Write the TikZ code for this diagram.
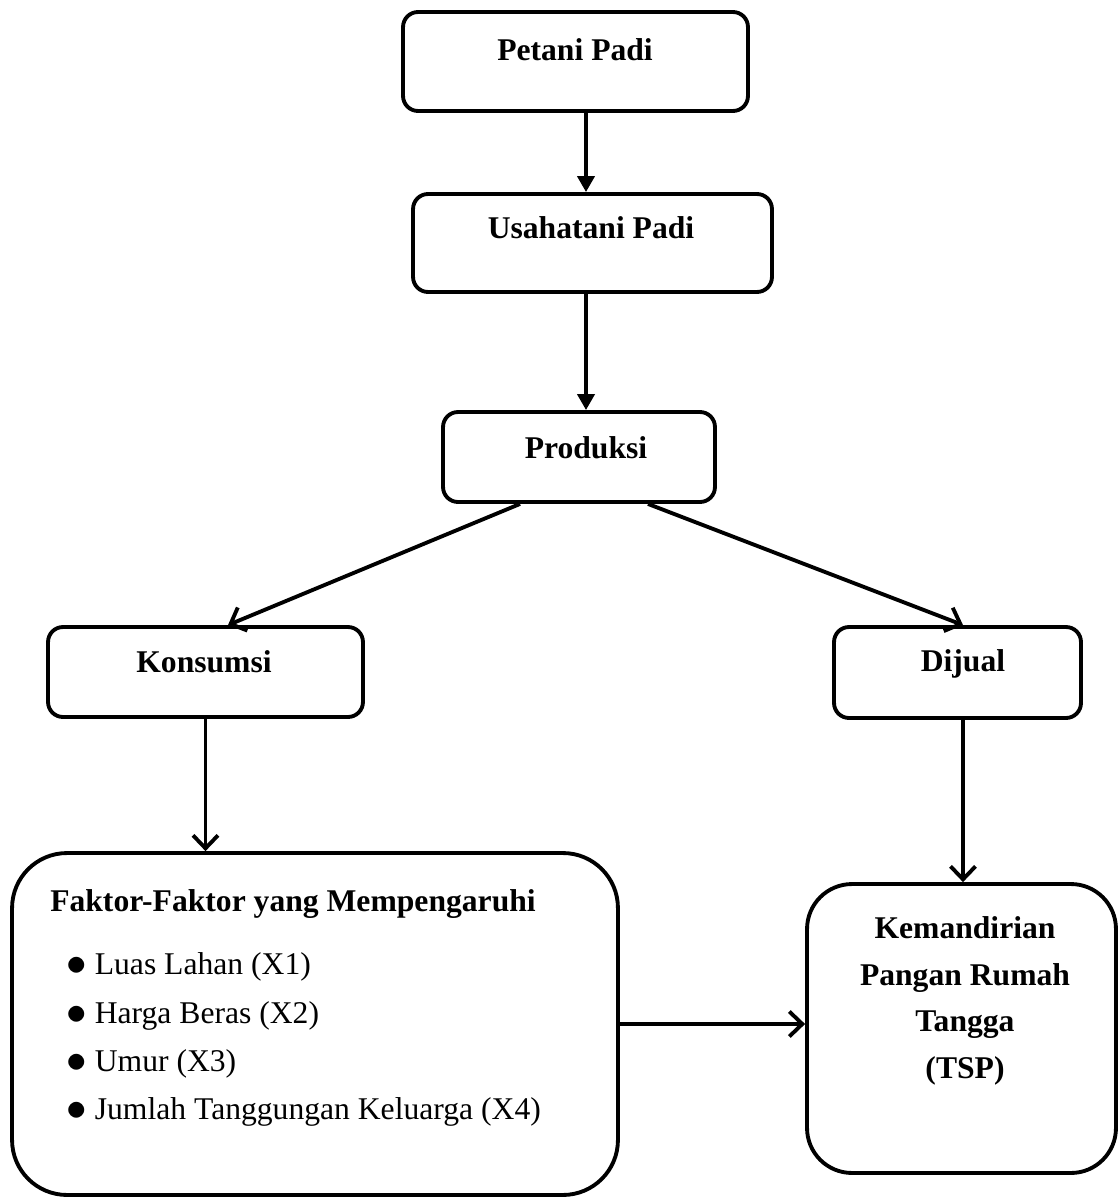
\documentclass[tikz,border=0pt]{standalone}
\usepackage{fontspec}
\setmainfont{Liberation Serif}
\usetikzlibrary{arrows.meta, positioning}

\tikzset{
  box/.style={draw, line width=2.2pt, rounded corners=0.3cm},
  bigbox/.style={draw, line width=2.2pt, rounded corners=1.1cm},
  title/.style={inner sep=0pt, font=\fontsize{18}{26.6}\selectfont\bfseries},
  item/.style={inner sep=0pt, anchor=west, font=\fontsize{18}{26.6}\selectfont},
  solidarrow/.style={line width=2.2pt, -{Triangle[length=0.32cm, width=0.34cm]}},
  openarrow/.style={line width=2.2pt, -{Straight Barb[length=0.26cm, width=0.5cm, line width=2.2pt]}}
}
\newcommand{\itembullet}{\raisebox{-0.02em}{\scalebox{1.35}{$\bullet$}}\hspace{0.16cm}}

\begin{document}
\begin{tikzpicture}[x=0.02cm, y=-0.02cm]
  \useasboundingbox (0,0) rectangle (1119,1203);

  % boxes
  \node[box, minimum width=6.9cm, minimum height=1.98cm] (petani) at (575.5,61.5) {};
  \node[box, minimum width=7.18cm, minimum height=1.96cm] (usaha) at (592.5,243) {};
  \node[box, minimum width=5.44cm, minimum height=1.8cm] (produksi) at (579,457) {};
  \node[box, minimum width=6.3cm, minimum height=1.8cm] (konsumsi) at (205.5,672) {};
  \node[box, minimum width=4.94cm, minimum height=1.82cm] (dijual) at (957.5,672.5) {};
  \node[bigbox, minimum width=12.12cm, minimum height=6.84cm] (faktor) at (315,1024) {};
  \node[bigbox, rounded corners=0.9cm, minimum width=6.18cm, minimum height=5.78cm] (kemandirian) at (961.5,1028.5) {};

  % texts
  \node[title] (petanitxt) at (575,50) {Petani Padi};
  \node[title] (usahatxt) at (591,228) {Usahatani Padi};
  \node[title] (produksitxt) at (586,448) {Produksi};
  \node[title] (konsumsitxt) at (204,662) {Konsumsi};
  \node[title] (dijualtxt) at (963,664) {Dijual};
  \node[title] (faktortxt) at (293,904) {Faktor-Faktor yang Mempengaruhi};
  \node[item] (x1) at (66,967) {\itembullet Luas Lahan (X1)};
  \node[item] (x2) at (66,1016) {\itembullet Harga Beras (X2)};
  \node[item] (x3) at (66,1064) {\itembullet Umur (X3)};
  \node[item] (x4) at (66,1112) {\itembullet Jumlah Tanggungan Keluarga (X4)};
  \node[title, align=center] (kemandiriantxt) at (965,1001)
    {Kemandirian\\Pangan Rumah\\Tangga\\(TSP)};

  % connectors
  \draw[solidarrow] ([xshift=0.21cm]petani.south) -- ([xshift=0.21cm]petani.south |- usaha.north);
  \draw[solidarrow] ([xshift=-0.13cm]usaha.south) -- ([xshift=-0.13cm]usaha.south |- produksi.north);
  \draw[openarrow] ([xshift=-1.18cm]produksi.south) -- ([xshift=0.45cm]konsumsi.north);
  \draw[openarrow] ([xshift=1.38cm]produksi.south) -- ([xshift=0.11cm]dijual.north);
  \draw[openarrow] (konsumsi.south) -- (konsumsi.south |- faktor.north);
  \draw[openarrow] ([xshift=0.11cm]dijual.south) -- ([xshift=0.11cm]dijual.south |- kemandirian.north);
  \draw[openarrow] (faktor.east) -- (faktor.east -| kemandirian.west);
\end{tikzpicture}
\end{document}
